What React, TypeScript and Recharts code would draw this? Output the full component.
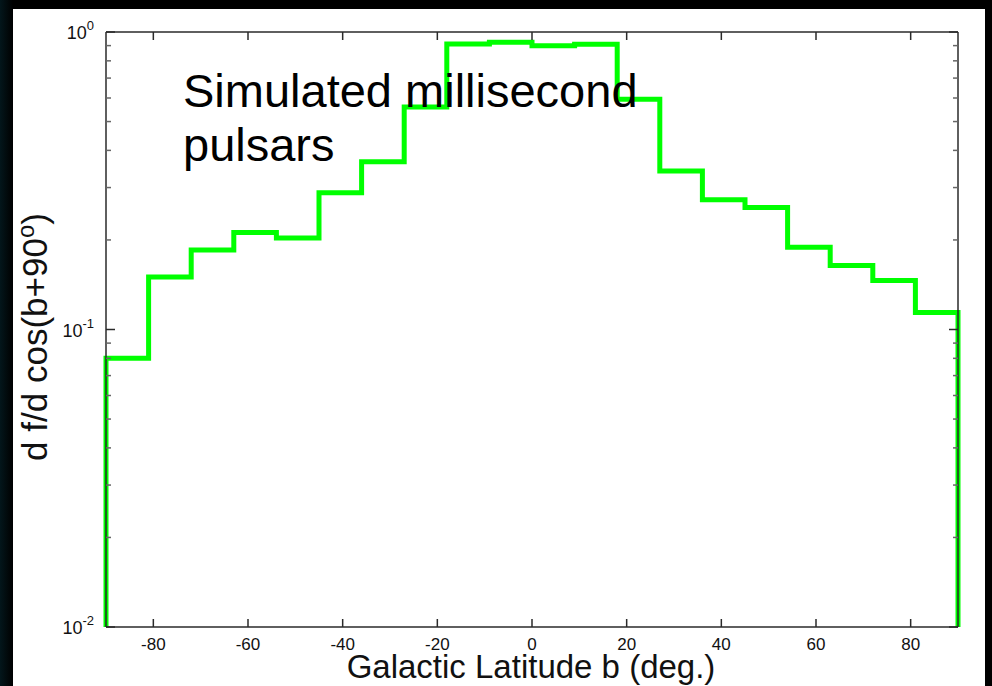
import React from "react";
import { LineChart, Line, XAxis, YAxis } from "recharts";

// histogram bin edges (deg) and the bin heights
const binEdges = [-90, -81, -72, -63, -54, -45, -36, -27, -18, -9, 0, 9, 18, 27, 36, 45, 54, 63, 72, 81, 90];
const binValues = [
  0.080, 0.150, 0.185, 0.212, 0.203, 0.288, 0.366, 0.560, 0.911, 0.923,
  0.899, 0.909, 0.594, 0.341, 0.273, 0.257, 0.189, 0.164, 0.146, 0.114,
];
const yFloor = 0.01;

const xTicks = [-80, -60, -40, -20, 0, 20, 40, 60, 80];
const yTicks = [
  0.01, 0.02, 0.03, 0.04, 0.05, 0.06, 0.07, 0.08, 0.09,
  0.1, 0.2, 0.3, 0.4, 0.5, 0.6, 0.7, 0.8, 0.9, 1,
];
const decades = [0.01, 0.1, 1];
const decadeExponents = ["-2", "-1", "0"];

// step outline: drop to the floor at both ends
const data = [
  { b: binEdges[0], f: yFloor },
  ...binValues.map((v, i) => ({ b: binEdges[i], f: v })),
  { b: binEdges[binEdges.length - 1], f: binValues[binValues.length - 1] },
  { b: binEdges[binEdges.length - 1], f: yFloor },
];

const FONT = '"Liberation Sans", Arial, Helvetica, sans-serif';
const AXIS = "#2a2a2a";

function LeftTick(props: any) {
  const { x, y, payload } = props;
  const idx = decades.indexOf(payload.value);
  const ax = x + 12;
  return (
    <g>
      <line x1={ax} x2={ax + (idx >= 0 ? 9 : 5)} y1={y} y2={y} stroke={idx >= 0 ? AXIS : "#666"} strokeWidth={1.5} />
      {idx >= 0 && (
        <text x={x} y={y + 7} textAnchor="end" fontFamily={FONT} fontSize={18} fill="#111">
          10
          <tspan dy={-9} fontSize={13}>{decadeExponents[idx]}</tspan>
        </text>
      )}
    </g>
  );
}

function RightTick(props: any) {
  const { x, y, payload } = props;
  const major = decades.includes(payload.value);
  return <line x1={x} x2={x - (major ? 9 : 5)} y1={y} y2={y} stroke={major ? AXIS : "#666"} strokeWidth={1.5} />;
}

function BottomTick(props: any) {
  const { x, y, payload } = props;
  return (
    <g>
      <line x1={x} x2={x} y1={y} y2={y - 8} stroke={AXIS} strokeWidth={1.5} />
      <text x={x} y={y + 23} textAnchor="middle" fontFamily={FONT} fontSize={17} fill="#111">
        {payload.value}
      </text>
    </g>
  );
}

function TopTick(props: any) {
  const { x, y } = props;
  return <line x1={x} x2={x} y1={y} y2={y + 8} stroke={AXIS} strokeWidth={1.5} />;
}

export default function App() {
  return (
    <div
      style={{
        position: "absolute",
        left: 0,
        top: 0,
        width: 992,
        height: 686,
        overflow: "hidden",
        background: "linear-gradient(90deg, #03161b 0px, #000 13px)",
      }}
    >
      <div style={{ position: "absolute", left: 13, top: 9, width: 972, height: 677, background: "#fff" }} />
      <div style={{ position: "absolute", left: 0, top: 0 }}>
        <LineChart width={992} height={686} data={data} margin={{ top: 30, right: 30, bottom: 39, left: 46 }}>
          <XAxis
            xAxisId="bottom"
            dataKey="b"
            type="number"
            domain={[-90, 90]}
            ticks={xTicks}
            interval={0}
            height={20}
            tickSize={0}
            tickMargin={0}
            tick={<BottomTick />}
            axisLine={{ stroke: AXIS, strokeWidth: 1.5 }}
            tickLine={false}
          />
          <XAxis
            xAxisId="top"
            orientation="top"
            dataKey="b"
            type="number"
            domain={[-90, 90]}
            allowDataOverflow
            ticks={xTicks}
            interval={0}
            height={2}
            tickSize={0}
            tickMargin={0}
            tick={<TopTick />}
            axisLine={{ stroke: AXIS, strokeWidth: 1.5 }}
            tickLine={false}
          />
          <YAxis
            yAxisId="left"
            type="number"
            scale="log"
            domain={[0.01, 1]}
            ticks={yTicks}
            interval={0}
            width={60}
            tickSize={0}
            tickMargin={12}
            tick={<LeftTick />}
            axisLine={{ stroke: AXIS, strokeWidth: 1.5 }}
            tickLine={false}
          />
          <YAxis
            yAxisId="right"
            orientation="right"
            type="number"
            scale="log"
            domain={[0.01, 1]}
            allowDataOverflow
            ticks={yTicks}
            interval={0}
            width={4}
            tickSize={0}
            tickMargin={0}
            tick={<RightTick />}
            axisLine={{ stroke: AXIS, strokeWidth: 1.5 }}
            tickLine={false}
          />
          <Line
            xAxisId="bottom"
            yAxisId="left"
            dataKey="f"
            type="stepAfter"
            stroke="#00ff00"
            strokeWidth={5}
            dot={false}
            isAnimationActive={false}
          />
        </LineChart>
      </div>
      <svg width={992} height={686} style={{ position: "absolute", left: 0, top: 0, pointerEvents: "none" }}>
        <text fontFamily={FONT} fontSize={47} fill="#000">
          <tspan x={183} y={107}>Simulated millisecond</tspan>
          <tspan x={183} y={161}>pulsars</tspan>
        </text>
        <text x={531} y={678} textAnchor="middle" fontFamily={FONT} fontSize={33} fill="#111">
          Galactic Latitude b (deg.)
        </text>
        <text transform="translate(47,337) rotate(-90)" textAnchor="middle" fontFamily={FONT} fontSize={35} fill="#111">
          d f/d cos(b+90
          <tspan dy={-13} fontSize={24}>o</tspan>
          <tspan dy={13}>)</tspan>
        </text>
      </svg>
    </div>
  );
}
